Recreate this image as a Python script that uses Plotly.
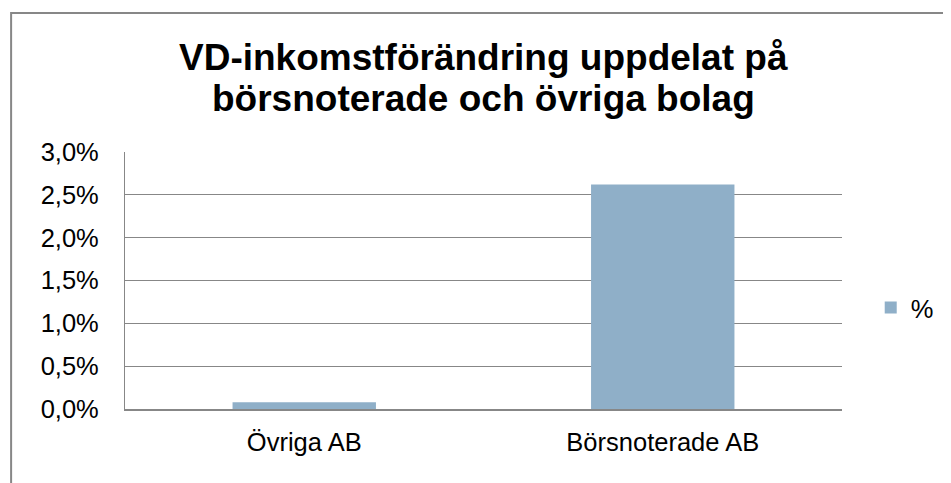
import plotly.graph_objects as go

categories = ["Övriga AB", "Börsnoterade AB"]
values = [0.0008, 0.0262]
series_name = "%"
title_lines = ["VD-inkomstförändring uppdelat på", "börsnoterade och övriga bolag"]
y_ticks = [0.0, 0.005, 0.01, 0.015, 0.02, 0.025, 0.03]

# page has an 8px body margin; work in page pixels and convert
OFF = 8
W, H = 951 - OFF, 483 - OFF
L, T = 125 - OFF, 152 - OFF
PR, PB = 849 - OFF, 409 - OFF
R, B = W - PR, H - PB
ph = PB - T
pw = PR - L

def py(p):
    return (PB - (p - OFF)) / ph

def px(p):
    return ((p - OFF) - L) / pw

FONT = "Liberation Sans, Arial, sans-serif"
GRAY = "#878787"

fig = go.Figure()
fig.add_trace(go.Bar(
    x=categories, y=values, name=series_name,
    marker=dict(color="#8FAFC8", line=dict(width=0)),
    showlegend=True,
))

fig.update_layout(
    width=W, height=H,
    margin=dict(l=L, r=R, t=T, b=B, pad=0),
    paper_bgcolor="white", plot_bgcolor="white",
    font=dict(family=FONT, size=25.5, color="#000000"),
    separators=", ",
    bargap=0.6,
    showlegend=True,
    legend=dict(x=px(878), xref="paper", y=py(308), yanchor="middle", xanchor="left",
                font=dict(size=25.5), bgcolor="rgba(0,0,0,0)", itemwidth=30),
    xaxis=dict(showgrid=False, showline=True, linecolor=GRAY, linewidth=2,
               ticks="", ticklabelstandoff=9, tickfont=dict(size=25.5)),
    yaxis=dict(range=[0, 0.03], tickvals=y_ticks, tickformat=".1%",
               showgrid=True, gridcolor=GRAY, gridwidth=1.3,
               showline=True, linecolor=GRAY, linewidth=1.3,
               zeroline=False, ticks="", ticklabelstandoff=20,
               tickfont=dict(size=25.5)),
)

for line, yp in zip(title_lines, [58, 98]):
    fig.add_annotation(text="<b>%s</b>" % line, xref="paper", yref="paper",
                       x=0.5, y=py(yp), xanchor="center", yanchor="middle",
                       showarrow=False, font=dict(size=37, family=FONT, color="#000"))

fig.add_shape(type="rect", xref="paper", yref="paper",
              x0=px(10), x1=px(1000), y0=py(13), y1=py(520),
              line=dict(color=GRAY, width=2), fillcolor="rgba(0,0,0,0)", layer="below")

fig.write_html("out.html")
